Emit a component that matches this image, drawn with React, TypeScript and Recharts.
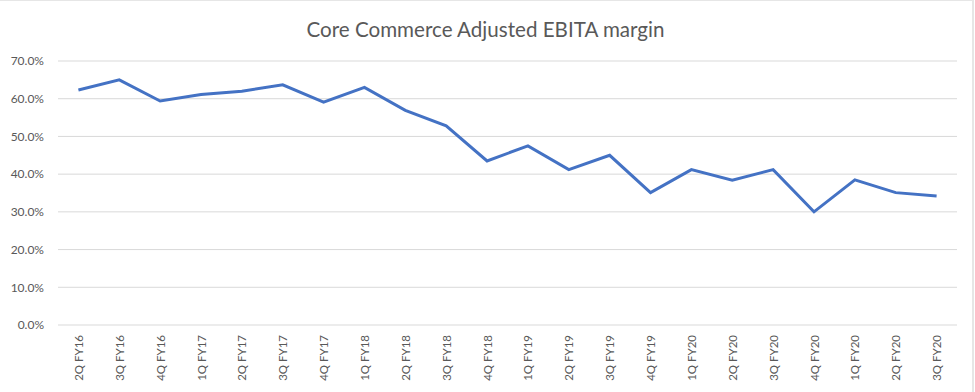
import React from 'react';
import { LineChart, Line, XAxis, YAxis, CartesianGrid } from 'recharts';

const categories = [
  '2Q FY16', '3Q FY16', '4Q FY16', '1Q FY17', '2Q FY17', '3Q FY17', '4Q FY17',
  '1Q FY18', '2Q FY18', '3Q FY18', '4Q FY18', '1Q FY19', '2Q FY19', '3Q FY19',
  '4Q FY19', '1Q FY20', '2Q FY20', '3Q FY20', '4Q FY20', '1Q FY20', '2Q FY20', '3Q FY20',
];

const margins = [
  62.3, 65.0, 59.4, 61.1, 62.0, 63.7, 59.1, 63.0, 56.9, 52.8, 43.5,
  47.5, 41.2, 45.0, 35.1, 41.2, 38.4, 41.2, 30.0, 38.5, 35.1, 34.2,
];

const yTicks = [0, 10, 20, 30, 40, 50, 60, 70];

const data = categories.map((c, i) => ({ idx: i, label: c, value: margins[i] }));

const FONT = 'Lato, "Open Sans", sans-serif';
const TEXT = '#595959';

const XTick = (props: any) => {
  const { x, y, payload } = props;
  const label = categories[payload.value];
  const ty = y + 2;
  return (
    <text
      x={x}
      y={ty}
      transform={`rotate(-90, ${x}, ${ty})`}
      textAnchor="end"
      dominantBaseline="central"
      fontSize={11.5}
      fontFamily={FONT}
      fill={TEXT}
    >
      {label}
    </text>
  );
};

export default function App() {
  return (
    <div
      style={{
        position: 'fixed',
        left: 0,
        top: 0,
        width: 974,
        height: 392,
        background: '#fff',
        borderTop: '1px solid #e6e6e6',
        borderRight: '2px solid #e6e6e6',
        boxSizing: 'border-box',
      }}
    >
      <div
        style={{
          position: 'absolute',
          left: 0,
          top: 0,
          width: 971,
          textAlign: 'center',
          fontFamily: FONT,
          fontSize: 20.6,
          color: TEXT,
          lineHeight: '22px',
          paddingTop: 17,
        }}
      >
        Core Commerce Adjusted EBITA margin
      </div>
      <div style={{ position: 'absolute', left: 0, top: -1 }}>
        <LineChart
          width={975}
          height={392}
          data={data}
          margin={{ top: 61, right: 18, bottom: 0, left: 0 }}
        >
          <CartesianGrid vertical={false} stroke="#d9d9d9" strokeWidth={1} />
          <XAxis
            dataKey="idx"
            type="category"
            axisLine={false}
            tickLine={false}
            interval={0}
            height={67}
            padding={{ left: 20.4, right: 20.4 }}
            tick={<XTick />}
          />
          <YAxis
            domain={[0, 70]}
            ticks={yTicks}
            width={58}
            axisLine={false}
            tickLine={false}
            tickSize={0}
            tickMargin={14}
            tickFormatter={(v: number) => `${v.toFixed(1)}%`}
            tick={{ fontSize: 12, fontFamily: FONT, fill: TEXT }}
            interval={0}
          />
          <Line
            type="linear"
            dataKey="value"
            stroke="#4472C4"
            strokeWidth={3}
            dot={false}
            isAnimationActive={false}
          />
        </LineChart>
      </div>
    </div>
  );
}
